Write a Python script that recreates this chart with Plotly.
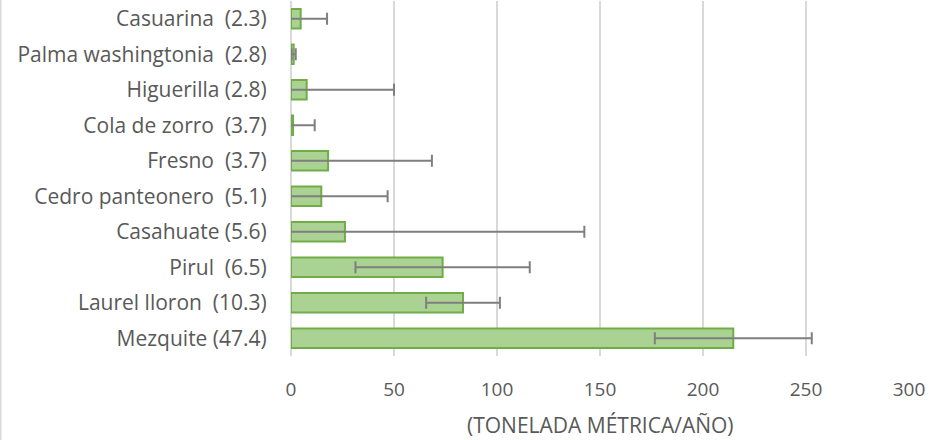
import plotly.graph_objects as go

categories = [
    "Casuarina \u00a0(2.3)",
    "Palma washingtonia \u00a0(2.8)",
    "Higuerilla (2.8)",
    "Cola de zorro \u00a0(3.7)",
    "Fresno \u00a0(3.7)",
    "Cedro panteonero \u00a0(5.1)",
    "Casahuate (5.6)",
    "Pirul \u00a0(6.5)",
    "Laurel lloron \u00a0(10.3)",
    "Mezquite (47.4)",
]
values = [4.7, 1.3, 7.6, 1.0, 18.0, 14.7, 26.2, 73.6, 83.5, 214.7]
errors = [12.8, 1.0, 42.4, 10.5, 50.4, 32.2, 116.2, 42.3, 17.9, 38.1]
x_ticks = [0, 50, 100, 150, 200, 250, 300]
x_title = "(TONELADA MÉTRICA/AÑO)"

W, H = 935, 440
ML, MR, MT, MB = 291, 26, 1, 84
FONT = "Open Sans"
GRAY = "#595959"

fig = go.Figure()
fig.add_trace(go.Bar(
    y=categories,
    x=values,
    orientation="h",
    marker=dict(color="#aad292", line=dict(color="#70ad47", width=2)),
    error_x=dict(type="data", array=errors, visible=True,
                 color="#7f7f7f", thickness=2, width=6),
))

fig.update_layout(
    width=W, height=H,
    margin=dict(l=ML, r=MR, t=MT, b=MB, autoexpand=False),
    paper_bgcolor="white", plot_bgcolor="white",
    bargap=0.45,
    showlegend=False,
    font=dict(family=FONT, color=GRAY),
    xaxis=dict(
        range=[0, 300], tickvals=x_ticks,
        showgrid=True, gridcolor="#d9d9d9", gridwidth=1.5,
        zeroline=True, zerolinecolor="#d9d9d9", zerolinewidth=1.5,
        tickfont=dict(size=19, color=GRAY, family=FONT),
        ticks="outside", ticklen=16, tickcolor="rgba(0,0,0,0)",
        fixedrange=True,
    ),
    yaxis=dict(
        autorange="reversed",
        tickfont=dict(size=21, color=GRAY, family=FONT),
        ticks="outside", ticklen=19, tickcolor="rgba(0,0,0,0)",
        showgrid=False, zeroline=False,
    ),
)

plot_w = W - ML - MR
plot_h = H - MT - MB
fig.add_annotation(
    text=x_title, xref="paper", yref="paper",
    x=0.5, y=-(425 - (H - MB)) / plot_h,
    showarrow=False, xanchor="center", yanchor="middle",
    font=dict(size=21, color=GRAY, family=FONT),
)
fig.add_shape(
    type="line", xref="paper", yref="paper",
    x0=-(ML - 0.75) / plot_w, x1=-(ML - 0.75) / plot_w,
    y0=-MB / plot_h, y1=(plot_h + MT) / plot_h,
    line=dict(color="#d9d9d9", width=1.5),
)

fig.write_html("out.html", config={"displayModeBar": False},
               post_script="document.body.style.margin='0';")
